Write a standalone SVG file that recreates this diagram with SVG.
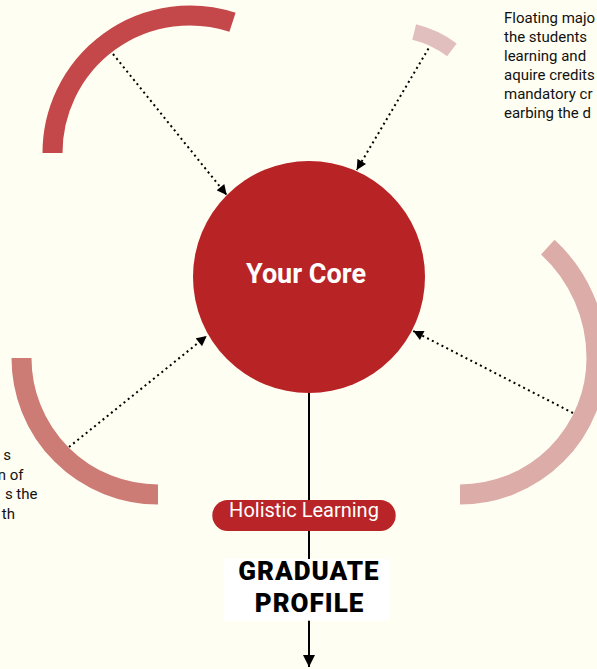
<svg xmlns="http://www.w3.org/2000/svg" width="597" height="669" viewBox="0 0 597 669">
<defs>
<style>
.arc{fill:none;stroke-linecap:butt}
.conn{fill:none;stroke:#000;stroke-width:2;stroke-dasharray:2 3.4}
.note{font-family:Roboto,"Liberation Sans",sans-serif;font-size:15px;fill:#111}
</style>
<marker id="ah" viewBox="0 0 10 10" refX="10" refY="5" markerWidth="11" markerHeight="10" markerUnits="userSpaceOnUse" orient="auto">
<path d="M0,0 L10,5 L0,10 z" fill="#000"/>
</marker>
<marker id="ahb" viewBox="0 0 10 10" refX="10" refY="5" markerWidth="12" markerHeight="15" markerUnits="userSpaceOnUse" orient="auto">
<path d="M0,0 L10,5 L0,10 z" fill="#000"/>
</marker>
</defs>
<rect width="597" height="669" fill="#fffef2"/>

<g id="arc-top-left"><path class="arc" d="M52.5,153 A137.5,137.5 0 0 1 232.5,22.2" stroke="#c4474a" stroke-width="20"/></g>
<g id="arc-top-right"><path class="arc" d="M414.2,32.1 A105,105 0 0 1 451.9,49.9" stroke="#e2bfbf" stroke-width="16"/></g>
<g id="arc-bottom-left"><path class="arc" d="M21.5,358 A136.5,136.5 0 0 0 158,494.5" stroke="#cd7b75" stroke-width="20"/></g>
<g id="arc-right"><path class="arc" d="M460,494.5 A136.5,136.5 0 0 0 596.5,358 A150.4,150.4 0 0 0 547.8,247.2" stroke="#dcaca9" stroke-width="20"/></g>

<g id="connectors">
<line x1="309" y1="393" x2="309" y2="667" stroke="#000" stroke-width="2" marker-end="url(#ahb)"/>
<line class="conn" x1="113" y1="54" x2="226.7" y2="195" marker-end="url(#ah)"/>
<line class="conn" x1="428.5" y1="48.5" x2="356.7" y2="170" marker-end="url(#ah)"/>
<line class="conn" x1="69" y1="447" x2="206.7" y2="336" marker-end="url(#ah)"/>
<line class="conn" x1="573" y1="413" x2="413.3" y2="331" marker-end="url(#ah)"/>
</g>

<g id="core">
<circle cx="309" cy="277" r="116" fill="#b82326"/>
<text x="306" y="282.5" text-anchor="middle" font-family="Roboto,'Liberation Sans',sans-serif" font-size="27" font-weight="bold" fill="#fff">Your Core</text>
</g>

<g id="holistic">
<rect x="212.3" y="500" width="183.4" height="31" rx="15.5" fill="#b82427"/>
<text x="304" y="516.7" text-anchor="middle" font-family="Roboto,'Liberation Sans',sans-serif" font-size="20" fill="#fff">Holistic Learning</text>
</g>

<g id="graduate">
<rect x="224.3" y="559" width="165" height="61.7" fill="#fff"/>
<text text-anchor="middle" font-family="Roboto,'Liberation Sans',sans-serif" font-size="26" font-weight="900" letter-spacing="1" fill="#000"><tspan x="309" y="580">GRADUATE</tspan><tspan x="309.5" y="611.7">PROFILE</tspan></text>
</g>

<g id="note-top-right">
<text class="note"><tspan x="504" y="23.3">Floating majo</tspan><tspan x="504" y="42.3">the students</tspan><tspan x="504" y="61.3">learning and</tspan><tspan x="504" y="80.3">aquire credits</tspan><tspan x="504" y="99.3">mandatory cr</tspan><tspan x="504" y="118.3">earbing the d</tspan></text>
</g>

<g id="note-left">
<text class="note" text-anchor="end"><tspan x="11" y="460">s</tspan><tspan x="23.5" y="479.5">n of</tspan><tspan x="37.5" y="499">s the</tspan><tspan x="15" y="518.5">th</tspan></text>
</g>
</svg>
